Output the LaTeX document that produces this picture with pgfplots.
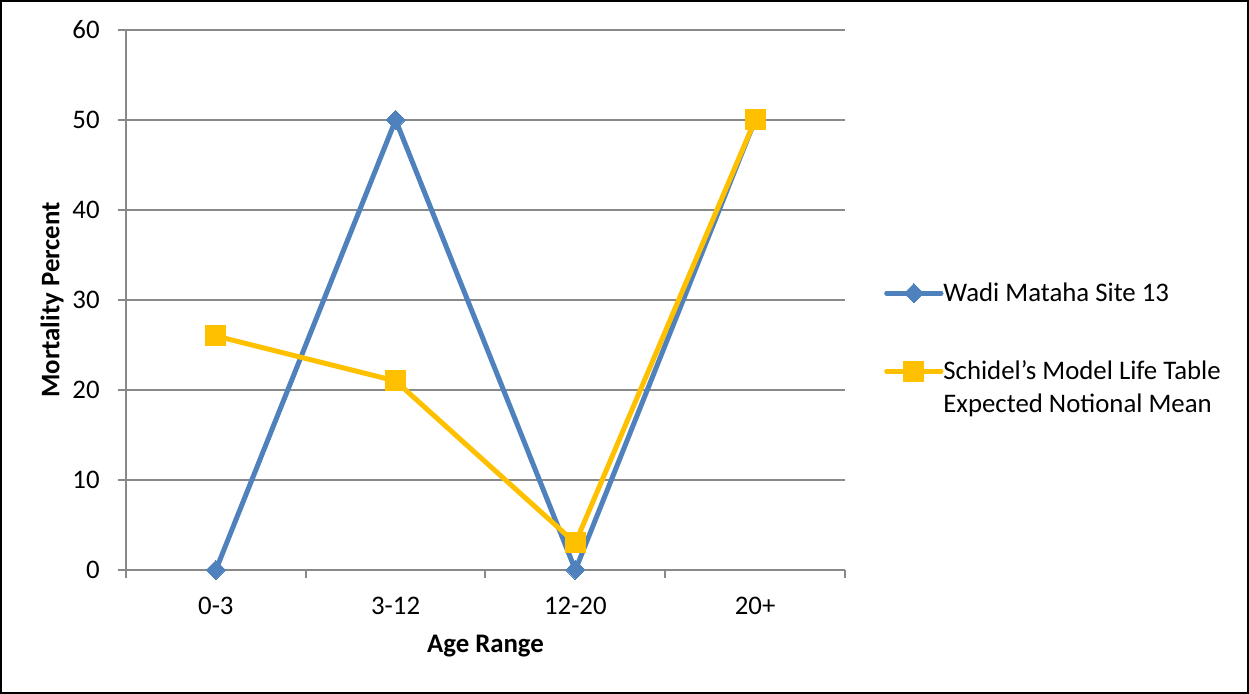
\documentclass[border=0pt]{standalone}
\usepackage{pgfplots}
\pgfplotsset{compat=1.18}
\usepackage{fontspec}
\setmainfont{Carlito}
\definecolor{wblue}{HTML}{4F81BD}
\definecolor{syel}{HTML}{FFC000}
\definecolor{gridg}{HTML}{898989}
\newcommand{\fs}{\fontsize{13.4}{16}\selectfont}
\pgfplotsset{
  mylegend/.style={
    legend image code/.code={\draw[##1] (0pt,0pt) -- (27pt,0pt); \draw[mark repeat=2,mark phase=2,##1] plot coordinates {(0pt,0pt) (13.5pt,0pt) (27pt,0pt)};},
    legend style={anchor=north west, draw=none, fill=none, inner sep=0pt, row sep=#1, column sep=0pt, nodes={inner sep=0pt, font=\fs}},
    legend cell align=left,
  },
  wstyle/.style={wblue, line width=2.5pt, line join=round, line cap=round, mark=square*, mark size=3.4pt, mark options={solid, rotate=45, fill=wblue, draw=wblue, line width=0pt}},
  sstyle/.style={syel, line width=2.5pt, line join=round, line cap=round, mark=square*, mark size=5pt, mark options={solid, fill=syel, draw=syel, line width=0pt}},
}
\begin{document}
\begin{tikzpicture}
\useasboundingbox (0,0) rectangle (624.5pt,347pt);
\draw[black, line width=1.2pt] (0.6pt,0.6pt) rectangle (623.9pt,346.4pt);
\begin{axis}[
  at={(63pt,62pt)}, anchor=south west, scale only axis,
  width=359.5pt, height=270pt,
  clip=false,
  xmin=-0.5, xmax=3.5, ymin=0, ymax=60,
  axis lines=left,
  axis line style={-, draw=gridg, line width=1pt},
  xtick={0,1,2,3}, xticklabels={0-3,3-12,12-20,20+},
  major x tick style={draw=none},
  extra x ticks={-0.5,0.5,1.5,2.5,3.5}, extra x tick labels={},
  extra x tick style={major tick length=4pt, tick align=outside, major x tick style={draw=gridg, line width=1pt}, xmajorgrids=false},
  ytick={0,10,...,60},
  ymajorgrids, grid style={draw=gridg, line width=1pt},
  major y tick style={draw=gridg, line width=1pt},
  tick align=outside, major tick length=4pt,
  /pgf/number format/assume math mode=true,
  ticklabel style={font=\fs},
  yticklabel style={anchor=east, inner sep=0pt, xshift=-9pt},
  xticklabel style={anchor=base, inner sep=0pt, yshift=-18.5pt},
  every axis y label/.style={at={(axis description cs:-0.1029,0.5)}, rotate=90, anchor=center, font=\fs\bfseries},
  every axis x label/.style={at={(axis description cs:0.5,-0.1407)}, anchor=center, font=\fs\bfseries},
  xlabel={Age Range}, ylabel={Mortality Percent},
  mylegend=0pt,
  legend style={at={(axis description cs:1.0542,0.5333)}},
]
\addplot[wstyle] coordinates {(0,0)(1,50)(2,0)(3,50)};
\addlegendentry{Wadi Mataha Site 13}
\addplot[sstyle] coordinates {(0,26)(1,21)(2,3)(3,50)};
\end{axis}
\begin{axis}[
  at={(63pt,62pt)}, anchor=south west, scale only axis,
  width=359.5pt, height=270pt,
  hide axis, xmin=0, xmax=1, ymin=0, ymax=1,
  mylegend=6pt,
  legend style={at={(axis description cs:1.0542,0.3889)}},
]
\addlegendimage{sstyle}
\addlegendentry{Schidel's Model Life Table}
\addlegendimage{empty legend}
\addlegendentry{Expected Notional Mean}
\end{axis}
\end{tikzpicture}
\end{document}
